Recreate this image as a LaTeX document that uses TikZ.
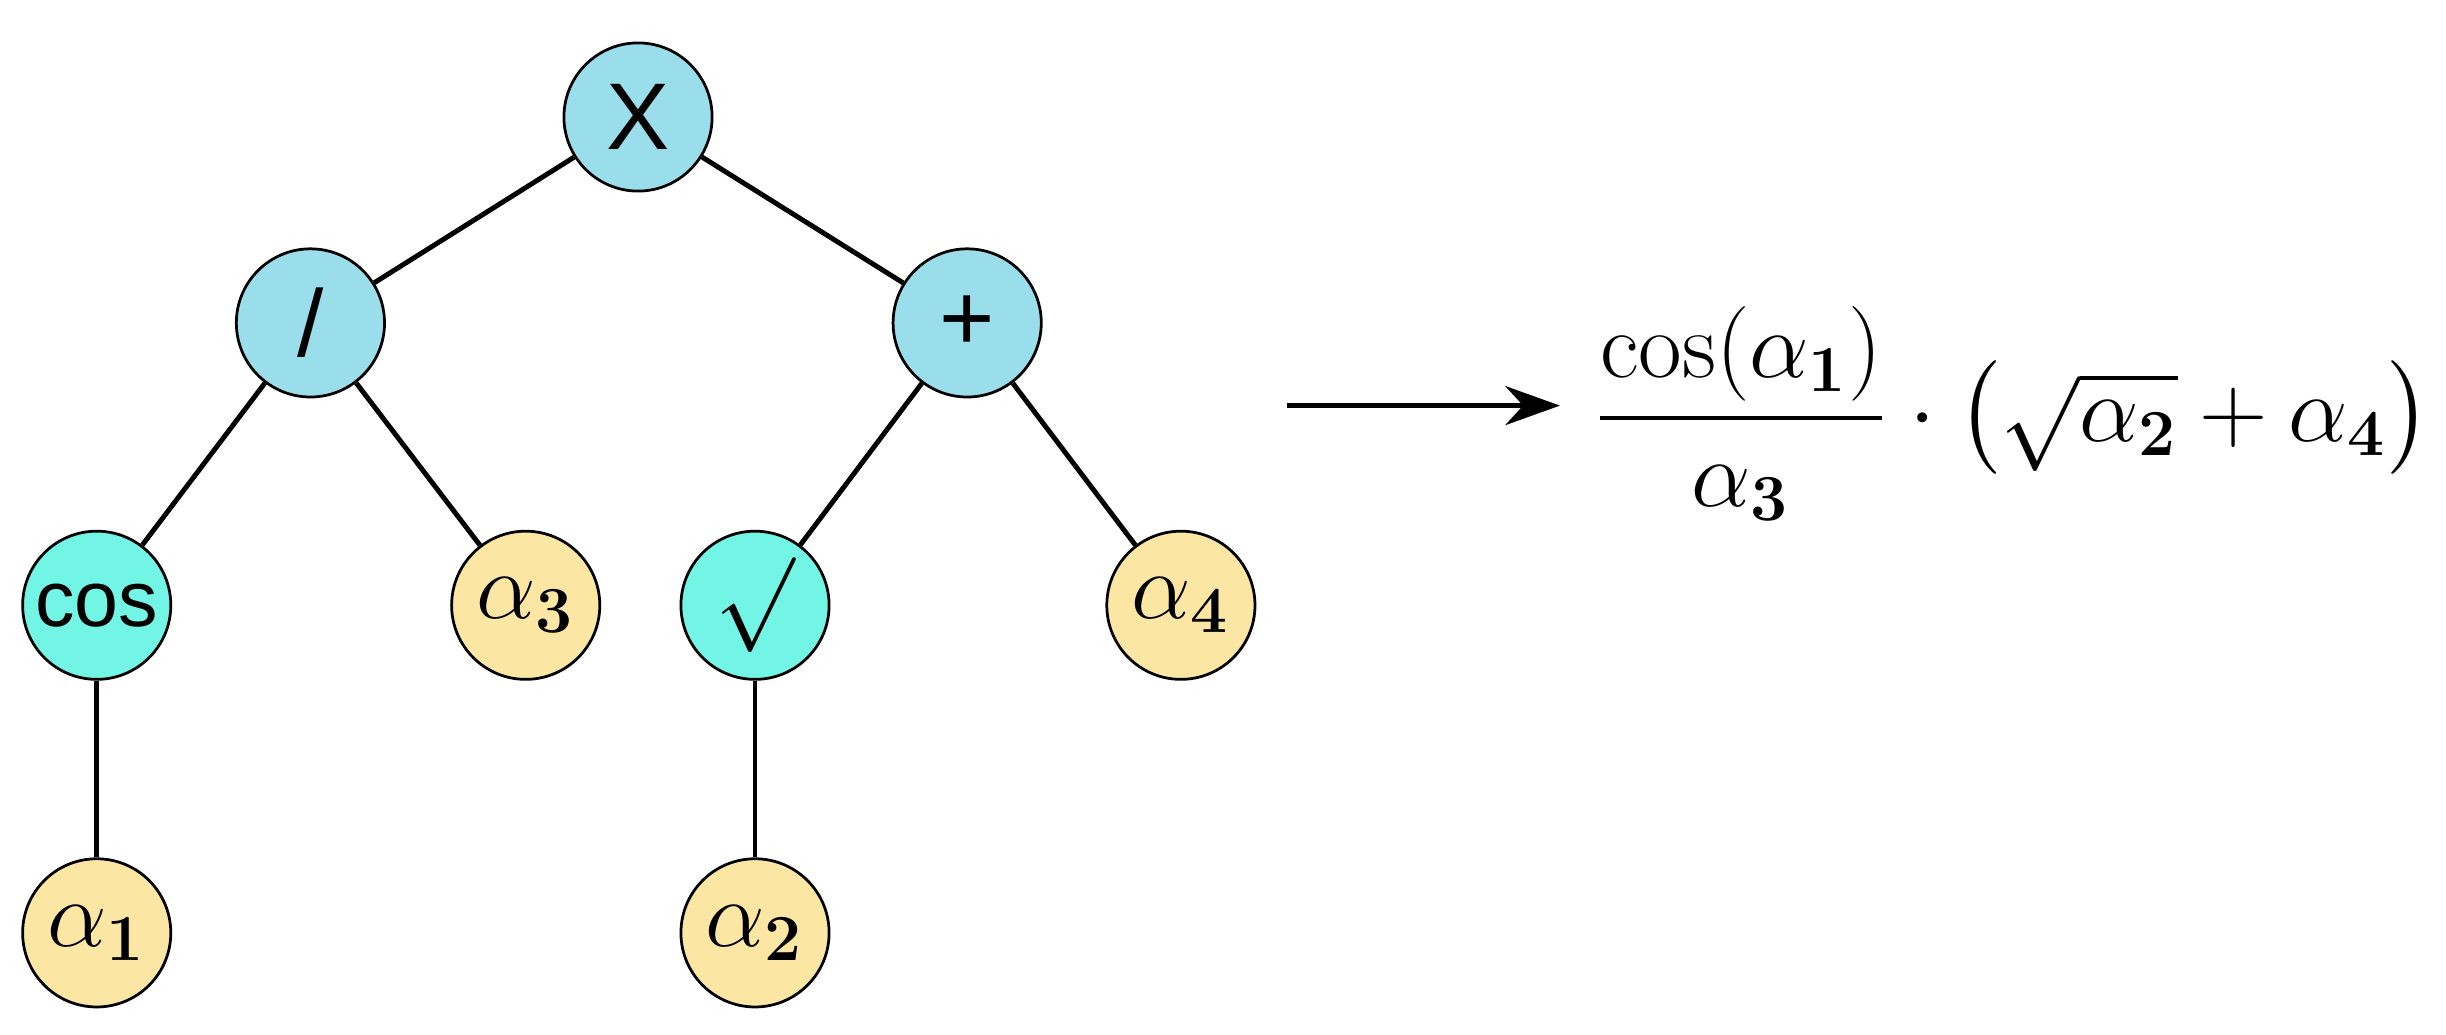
\documentclass[tikz,border=0pt]{standalone}
\usepackage{amsmath}
\usepackage{fontspec}
\newfontfamily\nodefont{Liberation Sans}
\usetikzlibrary{arrows.meta}
\definecolor{opblue}{RGB}{155,222,235}
\definecolor{fncyan}{RGB}{114,245,229}
\definecolor{leafyel}{RGB}{251,230,163}
\tikzset{
    tnode/.style={circle,draw=black,line width=0.5pt,minimum size=0.95cm,inner sep=0pt,font=\nodefont\LARGE},
    opnode/.style={tnode,fill=opblue},
    fnnode/.style={tnode,fill=fncyan},
    leaf/.style={tnode,fill=leafyel,font=\LARGE},
    edge/.style={line width=0.9pt},
}
\begin{document}
\begin{tikzpicture}
    \useasboundingbox (0,0) rectangle (15.68,6.63);

    \node[opnode] (mul) at (4.09,5.88) {X};
    \node[opnode] (div) at (1.99,4.56) {/};
    \node[opnode] (add) at (6.20,4.56) {+};
    \node[fnnode] (cos) at (0.62,2.75) {\Large cos};
    \node[leaf] (a3) at (3.37,2.75) {$\alpha_{\boldsymbol{3}}$};
    \node[fnnode] (sqrt) at (4.84,2.75) {$\surd$};
    \node[leaf] (a4) at (7.57,2.75) {$\alpha_{\boldsymbol{4}}$};
    \node[leaf] (a1) at (0.62,0.65) {$\alpha_{\boldsymbol{1}}$};
    \node[leaf] (a2) at (4.84,0.65) {$\alpha_{\boldsymbol{2}}$};

    \draw[edge] (mul) -- (div);
    \draw[edge] (mul) -- (add);
    \draw[edge] (div) -- (cos);
    \draw[edge] (div) -- (a3);
    \draw[edge] (add) -- (sqrt);
    \draw[edge] (add) -- (a4);
    \draw[edge] (cos) -- (a1);
    \draw[edge] (sqrt) -- (a2);

    \coordinate (arrs) at (8.25,4.03);
    \coordinate (arre) at (10.0,4.03);
    \draw[edge,-{Stealth[length=0.35cm,width=0.25cm]}] (arrs) -- (arre);

    \node[font=\LARGE] (expr) at (12.9,3.98)
        {$\dfrac{\cos(\alpha_{\boldsymbol{1}})}{\alpha_{\boldsymbol{3}}}\cdot\left(\sqrt{\alpha_{\boldsymbol{2}}}+\alpha_{\boldsymbol{4}}\right)$};
\end{tikzpicture}
\end{document}
